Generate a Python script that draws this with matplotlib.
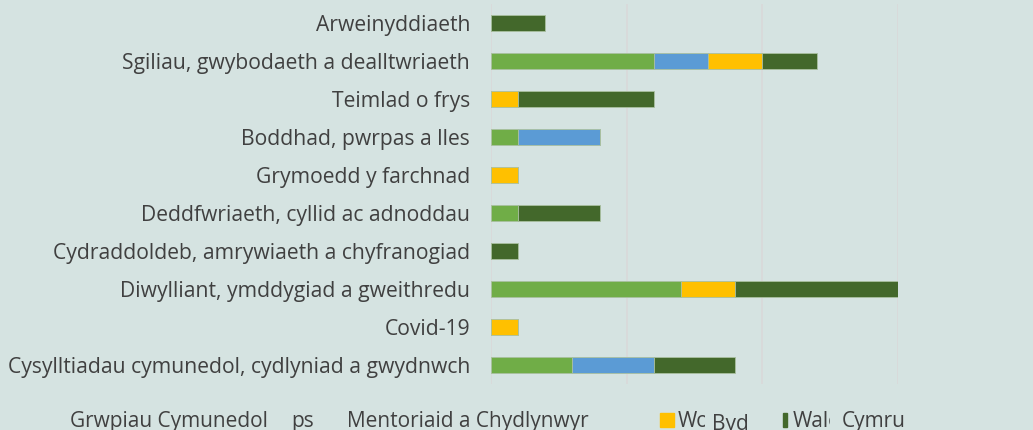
import matplotlib.pyplot as plt
from matplotlib.transforms import Bbox
import numpy as np

# categories, top to bottom
categories = [
    "Arweinyddiaeth",
    "Sgiliau, gwybodaeth a dealltwriaeth",
    "Teimlad o frys",
    "Boddhad, pwrpas a lles",
    "Grymoedd y farchnad",
    "Deddfwriaeth, cyllid ac adnoddau",
    "Cydraddoldeb, amrywiaeth a chyfranogiad",
    "Diwylliant, ymddygiad a gweithredu",
    "Covid-19",
    "Cysylltiadau cymunedol, cydlyniad a gwydnwch",
]

grwpiau = [0, 6, 0, 1, 0, 1, 0, 7, 0, 3]
mentoriaid = [0, 2, 0, 3, 0, 0, 0, 0, 0, 3]
byd = [0, 2, 1, 0, 1, 0, 0, 2, 1, 0]
cymru = [2, 2, 5, 0, 0, 3, 1, 6, 0, 3]

series = [grwpiau, mentoriaid, byd, cymru]
colors = ["#70AD47", "#5B9BD5", "#FFC000", "#43682B"]

bg = "#D5E3E1"
txt = "#404040"
font = "Open Sans"
W, H = 1033, 430

fig = plt.figure(figsize=(W / 100, H / 100), dpi=100, facecolor=bg)
ax = fig.add_axes([491 / W, 1 - 384 / H, (898 - 491) / W, 380 / H])
ax.set_facecolor(bg)

y = np.arange(len(categories))
left = np.zeros(len(categories))
for vals, c in zip(series, colors):
    vals = np.array(vals, dtype=float)
    ax.barh(y, vals, left=left, height=0.4, color=c,
            edgecolor="#A9C0A0", linewidth=0.6, zorder=3)
    left += vals

ax.set_xlim(0, 15)
ax.set_ylim(len(categories) - 0.5, -0.5)
ax.set_xticks([0, 5, 10, 15])
ax.set_xticklabels([])
ax.tick_params(axis="x", length=0)
ax.tick_params(axis="y", length=0, pad=15)
ax.set_yticks(y)
ax.set_yticklabels(categories, fontsize=15.2, color=txt, family=font)
ax.grid(axis="x", color="#D9D9D9", linewidth=1.2, zorder=0)
for s in ax.spines.values():
    s.set_visible(False)


def legend_text(x, s, base=427, clip_right=None):
    t = fig.text(x / W, 1 - base / H, s, fontsize=15, color=txt,
                 family=font, va="baseline")
    if clip_right is not None:
        t.set_clip_box(Bbox([[0, 0], [clip_right, H]]))
        t.set_clip_on(True)
    return t


# legend (as drawn in the source, labels partly overlapping/clipped)
legend_text(70, "Grwpiau Cymunedol")
legend_text(291, "ps")
legend_text(347, "Mentoriaid a Chydlynwyr")
fig.patches.append(plt.Rectangle((660 / W, 1 - 427 / H), 14 / W, 14 / H,
                                 transform=fig.transFigure, color=colors[2]))
legend_text(678, "Wo", clip_right=705)
legend_text(712, "Byd", base=430)
fig.patches.append(plt.Rectangle((783 / W, 1 - 427 / H), 4 / W, 14 / H,
                                 transform=fig.transFigure, color=colors[3]))
legend_text(793, "Wale", clip_right=830)
legend_text(842, "Cymru")

fig.savefig("out.png", dpi=100, facecolor=bg)
